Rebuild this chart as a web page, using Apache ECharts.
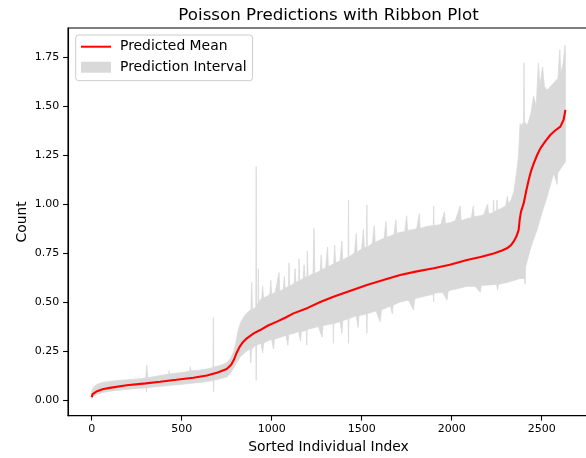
<!DOCTYPE html>
<html>
<head>
<meta charset="utf-8">
<script src="https://cdn.jsdelivr.net/npm/echarts@6/dist/echarts.min.js"></script>
<style>html,body{margin:0;padding:0;background:#fff;overflow:hidden}#c{width:600px;height:458px}</style>
</head>
<body>
<div id="c"></div>
<script>
// ---- data ----
var xTicks = [0, 500, 1000, 1500, 2000, 2500];
var yTicks = [0, 0.25, 0.5, 0.75, 1.0, 1.25, 1.5, 1.75];

// predicted mean: [sorted index, count]
var predictedMean = [[0,0.015],[5,0.03],[15,0.04],[30,0.045],[60,0.055],[100,0.062],[195,0.075],[300,0.085],[380,0.093],[470,0.103],[565,0.114],[640,0.125],[700,0.14],[750,0.158],[775,0.18],[790,0.205],[805,0.24],[821,0.27],[840,0.295],[862,0.315],[900,0.34],[936,0.357],[980,0.38],[1029,0.40],[1075,0.42],[1121,0.442],[1200,0.47],[1270,0.50],[1343,0.527],[1430,0.555],[1529,0.587],[1620,0.612],[1714,0.638],[1800,0.655],[1900,0.672],[1990,0.69],[2085,0.714],[2160,0.73],[2233,0.748],[2280,0.763],[2307,0.774],[2330,0.79],[2344,0.808],[2360,0.835],[2372,0.867],[2378,0.92],[2385,0.96],[2400,1.003],[2415,1.07],[2428,1.122],[2440,1.165],[2456,1.207],[2475,1.25],[2493,1.284],[2520,1.32],[2548,1.352],[2575,1.375],[2604,1.395],[2622,1.43],[2628,1.46],[2632,1.48]];

// upper edge of the prediction interval: [sorted index, count]
var upperBound = [[0,0.045],[10,0.065],[30,0.08],[60,0.09],[100,0.095],[150,0.10],[200,0.103],[250,0.107],[300,0.112],[306,0.178],[312,0.113],[350,0.12],[400,0.128],[428,0.132],[430,0.15],[432,0.133],[450,0.135],[500,0.14],[545,0.147],[548,0.17],[551,0.148],[600,0.152],[650,0.16],[674,0.166],[676,0.42],[678,0.168],[720,0.178],[750,0.19],[770,0.21],[790,0.25],[800,0.29],[815,0.36],[830,0.40],[850,0.43],[870,0.45],[885,0.46],[889,0.60],[893,0.46],[905,0.47],[912,0.475],[914,1.19],[916,0.485],[924,0.495],[926,0.67],[928,0.50],[945,0.52],[950,0.58],[955,0.52],[975,0.53],[990,0.54],[995,0.61],[1000,0.54],[1020,0.55],[1041,0.65],[1045,0.555],[1065,0.565],[1070,0.63],[1075,0.57],[1094,0.58],[1096,0.70],[1100,0.58],[1125,0.595],[1130,0.67],[1135,0.60],[1150,0.61],[1152,0.72],[1156,0.61],[1175,0.62],[1180,0.69],[1185,0.625],[1196,0.63],[1198,0.76],[1202,0.63],[1230,0.645],[1235,0.876],[1240,0.645],[1270,0.66],[1275,0.74],[1280,0.665],[1300,0.675],[1310,0.78],[1315,0.68],[1345,0.695],[1350,0.79],[1355,0.70],[1380,0.71],[1390,0.81],[1395,0.715],[1425,0.73],[1427,1.02],[1429,0.73],[1460,0.75],[1470,0.85],[1475,0.755],[1500,0.77],[1510,0.87],[1515,0.775],[1527,0.78],[1529,0.995],[1531,0.78],[1560,0.80],[1570,0.89],[1575,0.805],[1600,0.815],[1625,0.825],[1635,0.91],[1640,0.83],[1680,0.845],[1690,0.92],[1695,0.85],[1714,0.855],[1740,0.86],[1750,0.94],[1755,0.865],[1790,0.87],[1806,0.875],[1820,0.95],[1825,0.875],[1860,0.885],[1898,0.89],[1900,0.99],[1902,0.89],[1940,0.895],[1960,0.96],[1965,0.90],[1992,0.905],[2020,0.915],[2048,0.99],[2052,0.915],[2085,0.925],[2110,0.93],[2120,0.99],[2125,0.935],[2160,0.94],[2178,0.945],[2200,1.0],[2205,0.95],[2231,0.955],[2233,1.02],[2235,0.96],[2250,0.965],[2252,1.02],[2254,0.97],[2270,0.975],[2290,0.985],[2300,0.99],[2310,1.04],[2315,1.0],[2330,1.02],[2345,1.06],[2360,1.156],[2372,1.25],[2380,1.41],[2390,1.40],[2400,1.42],[2402,1.72],[2404,1.42],[2420,1.40],[2440,1.46],[2455,1.55],[2470,1.50],[2482,1.72],[2490,1.60],[2505,1.70],[2515,1.60],[2530,1.58],[2550,1.60],[2570,1.62],[2590,1.64],[2601,1.786],[2606,1.66],[2620,1.72],[2630,1.81],[2632,1.76]];

// lower edge of the prediction interval: [sorted index, count]
var lowerBound = [[0,0.008],[10,0.02],[30,0.03],[60,0.038],[100,0.045],[150,0.05],[200,0.055],[250,0.059],[302,0.062],[304,0.042],[306,0.063],[380,0.07],[450,0.076],[500,0.08],[550,0.085],[600,0.09],[660,0.097],[675,0.10],[677,0.042],[679,0.101],[720,0.11],[750,0.118],[770,0.135],[787,0.16],[805,0.19],[825,0.22],[860,0.25],[880,0.26],[884,0.19],[888,0.26],[912,0.28],[914,0.10],[916,0.28],[940,0.29],[950,0.24],[955,0.29],[973,0.30],[1000,0.31],[1010,0.26],[1015,0.31],[1047,0.32],[1080,0.33],[1090,0.28],[1095,0.335],[1121,0.34],[1150,0.35],[1160,0.30],[1165,0.35],[1193,0.355],[1195,0.28],[1197,0.36],[1260,0.375],[1280,0.32],[1285,0.38],[1341,0.39],[1343,0.289],[1345,0.39],[1380,0.40],[1390,0.34],[1395,0.405],[1425,0.415],[1427,0.29],[1429,0.415],[1470,0.43],[1480,0.37],[1485,0.43],[1527,0.44],[1529,0.34],[1531,0.44],[1580,0.455],[1603,0.40],[1610,0.46],[1622,0.465],[1660,0.48],[1670,0.44],[1675,0.485],[1714,0.50],[1760,0.51],[1788,0.46],[1795,0.515],[1806,0.52],[1850,0.53],[1898,0.54],[1900,0.50],[1902,0.545],[1950,0.55],[1974,0.51],[1980,0.555],[1992,0.56],[2040,0.57],[2085,0.58],[2130,0.58],[2159,0.55],[2165,0.585],[2178,0.585],[2250,0.59],[2255,0.56],[2260,0.59],[2307,0.60],[2344,0.61],[2380,0.62],[2405,0.62],[2408,0.59],[2411,0.68],[2440,0.78],[2474,0.867],[2500,0.95],[2530,1.037],[2567,1.157],[2580,1.12],[2585,1.10],[2590,1.16],[2632,1.216]];

// ---- polygon of the ribbon: upper edge forward, lower edge backward ----
var ribbonData = upperBound.concat(lowerBound.slice().reverse());

var FONT = 'DejaVu Sans';
var chart = echarts.init(document.getElementById('c'), null, {renderer: 'canvas'});
chart.setOption({
  animation: false,
  backgroundColor: '#ffffff',
  textStyle: {fontFamily: FONT},
  graphic: [{
    type: 'text', x: 328.5, y: 15.3,
    style: {text: 'Poisson Predictions with Ribbon Plot', font: '16.7px "DejaVu Sans"', fill: '#000', textAlign: 'center', textVerticalAlign: 'middle'}
  }],
  grid: {left: 68, top: 28, width: 521.1, height: 387.7, show: true, borderColor: '#000', borderWidth: 1.1, containLabel: false, outerBoundsMode: 'none'},
  legend: {
    orient: 'vertical', left: 75.7, top: 35,
    padding: [4.7, 6, 6.5, 4.3],
    itemWidth: 30, itemHeight: 11, itemGap: 6.5,
    backgroundColor: 'rgba(255,255,255,0.8)', borderColor: '#cccccc', borderWidth: 1, borderRadius: 3,
    textStyle: {fontFamily: FONT, fontSize: 13.9, color: '#000', lineHeight: 14, padding: [0, 0, 0, 4]},
    data: [
      {name: 'Predicted Mean', itemStyle: {color: 'rgba(0,0,0,0)', borderColor: 'rgba(0,0,0,0)', borderWidth: 0}},
      {name: 'Prediction Interval', icon: 'rect', itemStyle: {color: '#d9d9d9'}}
    ]
  },
  xAxis: {
    type: 'value', min: -131.6, max: 2763.6,
    name: 'Sorted Individual Index', nameLocation: 'middle', nameGap: 25, nameMoveOverlap: false,
    nameTextStyle: {fontFamily: FONT, fontSize: 13.9, color: '#000'},
    axisLine: {show: true, onZero: false, lineStyle: {color: '#000', width: 1.1}},
    axisTick: {show: true, length: 4.9, lineStyle: {color: '#000', width: 1.1}, customValues: xTicks},
    axisLabel: {fontFamily: FONT, fontSize: 11, color: '#000', margin: 8, customValues: xTicks, formatter: function (v) { return String(v); }},
    splitLine: {show: false}
  },
  yAxis: {
    type: 'value', min: -0.08, max: 1.898,
    name: 'Count', nameLocation: 'middle', nameGap: 39, nameRotate: 90, nameMoveOverlap: false,
    nameTextStyle: {fontFamily: FONT, fontSize: 13.9, color: '#000'},
    axisLine: {show: true, onZero: false, lineStyle: {color: '#000', width: 1.1}},
    axisTick: {show: true, length: 4.9, lineStyle: {color: '#000', width: 1.1}, customValues: yTicks},
    axisLabel: {fontFamily: FONT, fontSize: 11, color: '#000', margin: 8.7, customValues: yTicks, formatter: function (v) { return v.toFixed(2); }},
    splitLine: {show: false}
  },
  series: [
    {
      name: 'Prediction Interval', type: 'custom', data: ribbonData, clip: true, z: 1,
      itemStyle: {color: '#d9d9d9'},
      encode: {x: 0, y: 1},
      renderItem: function (params, api) {
        if (params.dataIndex !== 0) return null;
        var pts = ribbonData.map(function (d) { return api.coord(d); });
        return {type: 'polygon', shape: {points: pts}, style: {fill: '#d9d9d9', stroke: '#d9d9d9', lineWidth: 0.8}};
      }
    },
    {
      name: 'Predicted Mean', type: 'line', data: predictedMean, symbol: 'none', smooth: false, z: 3,
      lineStyle: {color: '#ff0000', width: 2.1}, itemStyle: {color: '#ff0000'}
    }
  ]
});
</script>
</body>
</html>
